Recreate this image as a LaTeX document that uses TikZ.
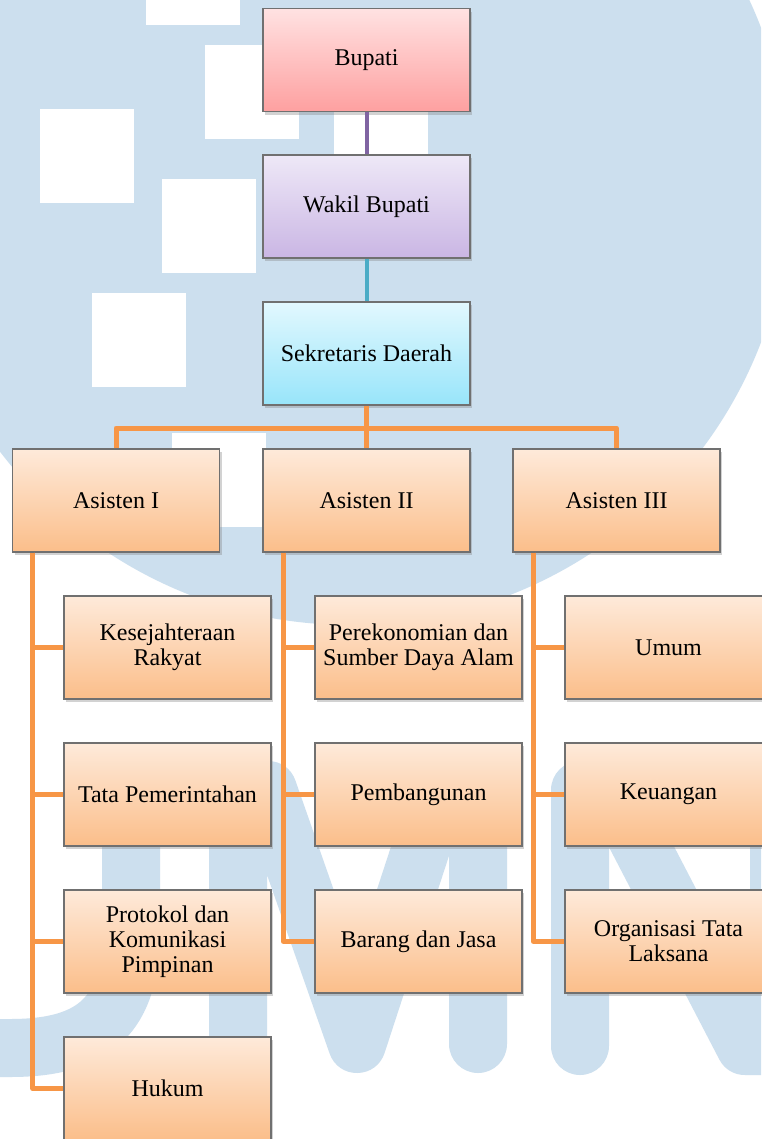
\documentclass[tikz,border=0pt]{standalone}
\usepackage{fontspec}
\setmainfont{Liberation Serif}
\usetikzlibrary{shadows}

\definecolor{wmblue}{RGB}{204,223,238}
\definecolor{boxline}{RGB}{112,112,112}
\definecolor{orgtop}{RGB}{254,234,218}
\definecolor{orgbot}{RGB}{251,190,138}
\definecolor{redtop}{RGB}{255,226,226}
\definecolor{redbot}{RGB}{254,160,160}
\definecolor{lilactop}{RGB}{238,232,247}
\definecolor{lilacbot}{RGB}{202,182,228}
\definecolor{cyantop}{RGB}{226,248,254}
\definecolor{cyanbot}{RGB}{152,229,250}
\definecolor{lnpurple}{RGB}{128,100,162}
\definecolor{lnteal}{RGB}{75,172,198}
\definecolor{lnorange}{RGB}{247,150,70}

\tikzset{
  unitbox/.style={draw=boxline, line width=0.6pt, minimum width=103.5pt, minimum height=51.5pt,
    inner sep=1pt, align=center, font=\fontsize{12}{12.5}\selectfont,
    drop shadow={shadow xshift=1.2pt, shadow yshift=-1.6pt, opacity=0.35}},
  topbox/.style={unitbox, top color=redtop, bottom color=redbot},
  wakilbox/.style={unitbox, top color=lilactop, bottom color=lilacbot},
  sekbox/.style={unitbox, top color=cyantop, bottom color=cyanbot},
  asbox/.style={unitbox, top color=orgtop, bottom color=orgbot},
  link/.style={line width=2.5pt, draw=lnorange, line join=round},
  wmletter/.style={draw=wmblue, line width=29pt, line cap=round, line join=round},
}

\begin{document}
\begin{tikzpicture}[x=0.5pt, y=-0.5pt]
    \fill[white] (0,0) rectangle (761,1139);
    \useasboundingbox (0,0) rectangle (761,1139);

    % watermark
    \begin{scope}
        \clip (0,0) rectangle (761,1139);
        \fill[wmblue] (350,185) circle[radius=220pt];
        \foreach \x/\y in {146/-69, 205/45, 40/109, 162/179, 92/293, 334/60, 172/433}
            \fill[white] (\x,\y) rectangle ++(94,94);
        \draw[wmletter] (131,790) -- (131,930) .. controls (131,1015) and (95,1048) .. (10,1048) -- (-80,1048);
        \draw[wmletter] (238,1044) -- (238,790) -- (268,790) -- (357,1044) -- (440,790) -- (478,790) -- (478,1044);
        \draw[wmletter] (580,1046) -- (580,790) -- (612,790) -- (745,1046) -- (779,1046) -- (779,790);
    \end{scope}

    \node[topbox] (bupati) at (366.5,60) {Bupati};
    \node[wakilbox] (wakil) at (366.5,206.5) {Wakil Bupati};
    \node[sekbox] (sekda) at (366.5,353.5) {Sekretaris Daerah};

    \node[asbox] (as1) at (116,500.5) {Asisten I};
    \node[asbox] (as2) at (366.5,500.5) {Asisten II};
    \node[asbox] (as3) at (616.5,500.5) {Asisten III};

    \node[asbox] (kesra) at (167.5,647.5) {Kesejahteraan\\Rakyat};
    \node[asbox] (pem) at (167.5,794.5) {Tata Pemerintahan};
    \node[asbox] (prokom) at (167.5,941.5) {Protokol dan\\Komunikasi\\Pimpinan};
    \node[asbox] (hukum) at (167.5,1088.5) {Hukum};

    \node[asbox] (ekon) at (418.5,647.5) {Perekonomian dan\\Sumber Daya Alam};
    \node[asbox] (bang) at (418.5,794.5) {Pembangunan};
    \node[asbox] (barjas) at (418.5,941.5) {Barang dan Jasa};

    \node[asbox] (umum) at (668.5,647.5) {Umum};
    \node[asbox] (keu) at (668.5,794.5) {Keuangan};
    \node[asbox] (ortala) at (668.5,941.5) {Organisasi Tata\\Laksana};

    \coordinate (bus) at (0,428);
    \draw[line width=2pt, lnpurple] (bupati) -- (wakil);
    \draw[line width=2pt, lnteal] (wakil) -- (sekda);
    \draw[link] (sekda) -- (as2);
    \draw[link] (as1) -- (as1 |- bus) -- (as3 |- bus) -- (as3);
    \foreach \chief/\dept in {as1/kesra, as1/pem, as1/prokom, as1/hukum, as2/ekon, as2/bang, as2/barjas, as3/umum, as3/keu, as3/ortala}
        \draw[link] ([xshift=10.5pt]\chief.south west) |- (\dept.west);
\end{tikzpicture}
\end{document}
